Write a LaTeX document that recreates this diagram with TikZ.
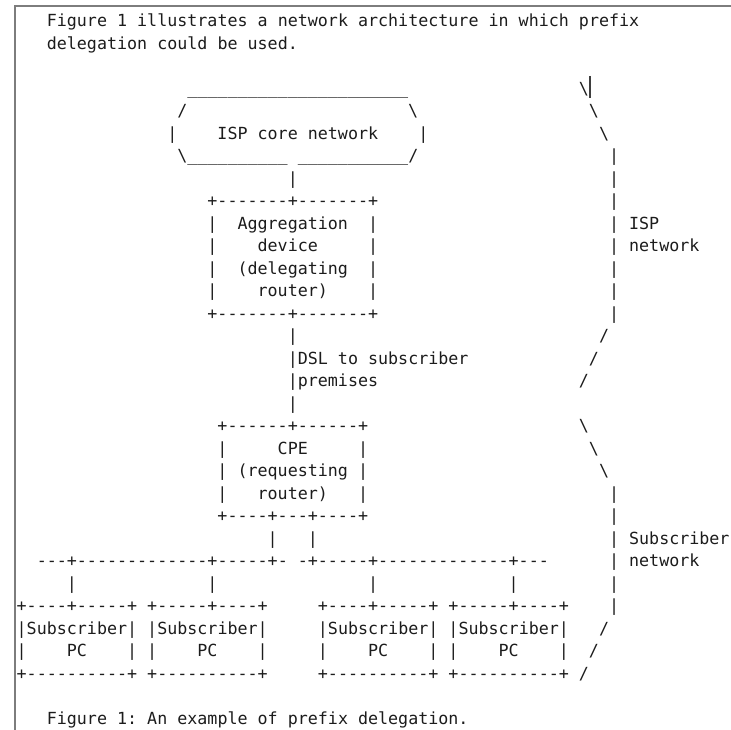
\documentclass[tikz,border=0pt]{standalone}
\usepackage{fontspec}
\setmonofont{DejaVu Sans Mono}
\frenchspacing
\definecolor{ink}{RGB}{28,28,28}
\definecolor{framegray}{RGB}{125,125,125}
\tikzset{
  asc/.style={anchor=base west, inner sep=0pt, outer sep=0pt, text=ink,
    font=\ttfamily\fontsize{16.68}{22.51}\selectfont},
}
\newcommand\bsl{\textbackslash}
\begin{document}
\begin{tikzpicture}
\useasboundingbox (0pt,0pt) rectangle (731pt,-730pt);
% page frame
\draw[framegray, line width=2pt] (15pt,-730pt) -- (15pt,-6pt) -- (731pt,-6pt);
% text caret
\draw[ink!85, line width=1.2pt] (590pt,-76pt) -- (590pt,-98pt);
% character grid: x = column, y = text row (baselines)
\begin{scope}[shift={(16.68pt,-3.99pt)}, x=10.04pt, y=-22.51pt]
  \node[asc] (intro1) at (3,1) {Figure 1 illustrates a network architecture in which prefix};
  \node[asc] (intro2) at (3,2) {delegation could be used.};
  % ISP core network cloud
  \node[asc] (coreTop) at (17,4) {\_\_\_\_\_\_\_\_\_\_\_\_\_\_\_\_\_\_\_\_\_\_};
  \node[asc] (coreL1) at (16,5) {/};
  \node[asc] (coreR1) at (39,5) {\bsl};
  \node[asc] (coreL2) at (15,6) {|};
  \node[asc] (core) at (20,6) {ISP core network};
  \node[asc] (coreR2) at (40,6) {|};
  \node[asc] (coreBot) at (16,7) {\bsl\_\_\_\_\_\_\_\_\_\_~\_\_\_\_\_\_\_\_\_\_\_/};
  \node[asc] (coreLink) at (27,8) {|};
  % aggregation device
  \node[asc] (aggTop) at (19,9) {+-------+-------+};
  \node[asc] (agg1) at (19,10) {|~~Aggregation~~|};
  \node[asc] (agg2) at (19,11) {|~~~~device~~~~~|};
  \node[asc] (agg3) at (19,12) {|~~(delegating~~|};
  \node[asc] (agg4) at (19,13) {|~~~~router)~~~~|};
  \node[asc] (aggBot) at (19,14) {+-------+-------+};
  % DSL link
  \node[asc] (dsl1) at (27,15) {|};
  \node[asc] (dsl2) at (27,16) {|DSL to subscriber};
  \node[asc] (dsl3) at (27,17) {|premises};
  \node[asc] (dsl4) at (27,18) {|};
  % CPE
  \node[asc] (cpeTop) at (20,19) {+------+------+};
  \node[asc] (cpe1) at (20,20) {|~~~~~CPE~~~~~|};
  \node[asc] (cpe2) at (20,21) {|~(requesting~|};
  \node[asc] (cpe3) at (20,22) {|~~~router)~~~|};
  \node[asc] (cpeBot) at (20,23) {+----+---+----+};
  \node[asc] (cpeLinks) at (25,24) {|~~~|};
  % subscriber LAN
  \node[asc] (lan) at (2,25) {---+-------------+-----+-~-+-----+-------------+---};
  \node[asc] (drop1) at (5,26) {|};
  \node[asc] (drop2) at (19,26) {|};
  \node[asc] (drop3) at (35,26) {|};
  \node[asc] (drop4) at (49,26) {|};
  \node[asc] (pcTop) at (0,27) {+----+-----+~+-----+----+~~~~~+----+-----+~+-----+----+};
  \node[asc] (pc1) at (0,28) {|Subscriber|~|Subscriber|~~~~~|Subscriber|~|Subscriber|};
  \node[asc] (pc2) at (0,29) {|~~~~PC~~~~|~|~~~~PC~~~~|~~~~~|~~~~PC~~~~|~|~~~~PC~~~~|};
  \node[asc] (pcBot) at (0,30) {+----------+~+----------+~~~~~+----------+~+----------+};
  % ISP network brace
  \node[asc] (ispA) at (56,4) {\bsl};
  \node[asc] (ispB) at (57,5) {\bsl};
  \node[asc] (ispC) at (58,6) {\bsl};
  \foreach \r in {7,...,14} \node[asc] (ispBar\r) at (59,\r) {|};
  \node[asc] (ispD) at (58,15) {/};
  \node[asc] (ispE) at (57,16) {/};
  \node[asc] (ispF) at (56,17) {/};
  \node[asc] (ispLabel1) at (61,10) {ISP};
  \node[asc] (ispLabel2) at (61,11) {network};
  % subscriber network brace
  \node[asc] (subA) at (56,19) {\bsl};
  \node[asc] (subB) at (57,20) {\bsl};
  \node[asc] (subC) at (58,21) {\bsl};
  \foreach \r in {22,...,27} \node[asc] (subBar\r) at (59,\r) {|};
  \node[asc] (subD) at (58,28) {/};
  \node[asc] (subE) at (57,29) {/};
  \node[asc] (subF) at (56,30) {/};
  \node[asc] (subLabel1) at (61,24) {Subscriber};
  \node[asc] (subLabel2) at (61,25) {network};
  % caption
  \node[asc] (caption) at (3,32) {Figure 1: An example of prefix delegation.};
\end{scope}
\end{tikzpicture}
\end{document}
